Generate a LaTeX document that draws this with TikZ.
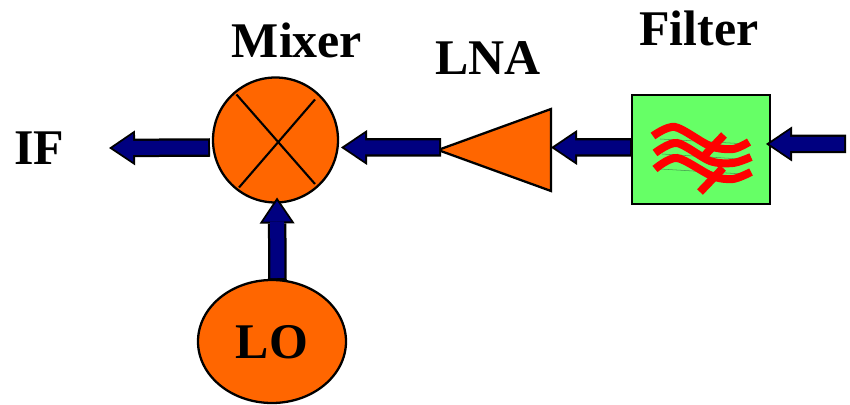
\documentclass[tikz,border=0pt]{standalone}
\usepackage{fontspec}
\setmainfont{Liberation Serif}
\usepackage{xcolor}
\usetikzlibrary{arrows.meta, shapes.geometric}
\definecolor{mixorange}{RGB}{255,102,0}
\definecolor{boxgreen}{RGB}{102,255,102}
\definecolor{flowblue}{RGB}{0,0,128}
\definecolor{wavegreen}{RGB}{70,150,80}

\begin{document}
\begin{tikzpicture}[
    part/.style={draw=black, fill=mixorange, line width=1.3pt, inner sep=0pt, outer sep=0pt},
    blocklabel/.style={font=\bfseries\fontsize{28.4}{32}\selectfont, inner sep=1pt},
    blockflow/.style={draw=flowblue, line width=.28cm, shorten >=.07cm, shorten <=.04cm,
        -{Triangle[length=.41cm,width=.56cm,line width=0pt]},
        preaction={draw=black, line width=.37cm, shorten >=0pt, shorten <=0pt,
            -{Triangle[length=.52cm,width=.70cm,line width=0pt]}}},
    wave/.style={draw=red, line width=.16cm},
    thinwave/.style={draw=wavegreen, line width=.3pt}
]
\useasboundingbox (0,0) rectangle (17,8.08);

\node[part,circle,minimum size=2.5cm] (mixer) at (5.51,5.28) {};
\node[part,ellipse,minimum width=2.96cm,minimum height=2.46cm] (lo) at (5.44,1.25) {};
\node[part,isosceles triangle,isosceles triangle stretches,shape border rotate=180,
    minimum width=1.64cm,minimum height=2.26cm,anchor=apex] (lna) at (8.76,5.08) {};
\node[draw=black,fill=boxgreen,line width=1.5pt,inner sep=0pt,outer sep=0pt,
    minimum width=2.76cm,minimum height=2.18cm] (filter) at (14.02,5.09) {};

\draw[line width=1.2pt] ([shift={(-.78,.91)}]mixer.center) -- ([shift={(.79,-.88)}]mixer.center);
\draw[line width=1.2pt] ([shift={(.79,.81)}]mixer.center) -- ([shift={(-.73,-.95)}]mixer.center);

% filter symbol
\draw[thinwave] (13.2,5.3) -- (14.95,5.2);
\draw[thinwave] (13.24,5.0) -- (14.8,4.9);
\draw[thinwave] (13.2,4.7) -- (14.86,4.6);
\draw[wave] plot[smooth] coordinates {(13.06,5.36) (13.5,5.54) (14.2,5.16) (14.66,5.1) (14.98,5.24)};
\draw[wave] plot[smooth] coordinates {(13.1,5.02) (13.54,5.22) (14.2,4.86) (14.66,4.82) (15.02,4.94)};
\draw[wave] plot[smooth] coordinates {(13.1,4.7) (13.54,4.92) (14.24,4.56) (14.66,4.5) (15.02,4.64)};
\draw[wave] (14.48,5.38) -- (14.1,4.98);
\draw[wave] (14.46,4.72) -- (14.0,4.24);

\node[blocklabel] (iflabel) at (0.78,5.12) {IF};
\node[blocklabel] (mixerlabel) at (5.94,7.28) {Mixer};
\node[blocklabel] (lnalabel) at (9.76,6.92) {LNA};
\node[blocklabel] (filterlabel) at (13.98,7.52) {Filter};
\node[blocklabel] (lolabel) at (5.44,1.24) {LO};

\coordinate (rfin) at (16.92,5.2);

\draw[blockflow] (rfin) -- ([xshift=-.08cm,yshift=.11cm]filter.east);
\draw[blockflow] ([yshift=.04cm]filter.west) -- ([yshift=.05cm]lna.lower side);
\draw[blockflow] ([xshift=.06cm,yshift=.05cm]lna.apex) -- ([xshift=.06cm,yshift=-.15cm]mixer.east);
\draw[blockflow] ([xshift=-.06cm,yshift=-.15cm]mixer.west) -- ([xshift=.86cm]iflabel.east);
\draw[blockflow] ([xshift=.11cm]lo.north) -- ([xshift=.03cm,yshift=.1cm]mixer.south);
\end{tikzpicture}
\end{document}
